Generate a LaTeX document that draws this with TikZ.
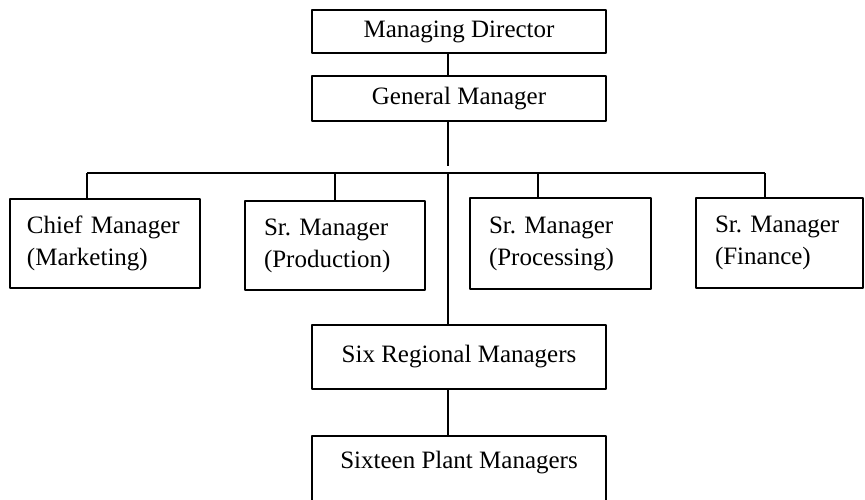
\documentclass[tikz,border=0pt]{standalone}
\usepackage{fontspec}
\setmainfont{Liberation Serif}
\newcommand\boxtext{\hyphenpenalty=10000\relax\frenchspacing}
\begin{document}
\begin{tikzpicture}[x=1pt,y=-1pt,line join=round,font=\fontsize{25}{32}\selectfont\boxtext,
	box/.style={draw,line width=1.8pt,inner xsep=19pt,inner ysep=0pt,align=left},
	link/.style={line width=1.8pt}]
	\def\trunk{448} \def\bus{173}
	\useasboundingbox (0,0) rectangle (865,500);
	\node[box,minimum width=294pt,minimum height=43pt] (md) at (459,31.5) {Managing Director};
	\node[box,minimum width=294pt,minimum height=45pt] (gm) at (459,98.5) {General Manager};
	\node[box,inner xsep=17pt,text width=156pt,minimum height=89pt] (cm) at (105,243.5) {Chief Manager\\(Marketing)};
	\node[box,text width=142pt,minimum height=89pt] (prod) at (335,245.5) {Sr. Manager\\(Production)};
	\node[box,text width=143pt,minimum height=91pt] (proc) at (560.5,243.5) {Sr. Manager\\(Processing)};
	\node[box,text width=129pt,minimum height=90pt] (fin) at (779.5,243) {Sr. Manager\\(Finance)};
	\node[box,minimum width=294pt,minimum height=64pt] (six) at (459,357) {Six Regional Managers};
	\node[box,minimum width=294pt,text height=33pt,text depth=40pt,anchor=north] (plant) at (459,435) {Sixteen Plant Managers};
	\coordinate (trunk) at (\trunk,\bus);
	\coordinate (gmend) at (\trunk,166);
	\coordinate (busl) at (87,\bus);
	\coordinate (busr) at (765,\bus);
	\draw[link] (md.south -| trunk) -- (gm.north -| trunk);
	\draw[link] (gm.south -| trunk) -- (gmend);
	\draw[link] (busl) -- (busr);
	\foreach \n/\x in {cm/87,prod/335,proc/538,fin/765}
		\draw[link] (\x,\bus) -- (\x,0 |- \n.north);
	\draw[link] (trunk) -- (six.north -| trunk);
	\draw[link] (six.south -| trunk) -- (plant.north -| trunk);
\end{tikzpicture}
\end{document}
